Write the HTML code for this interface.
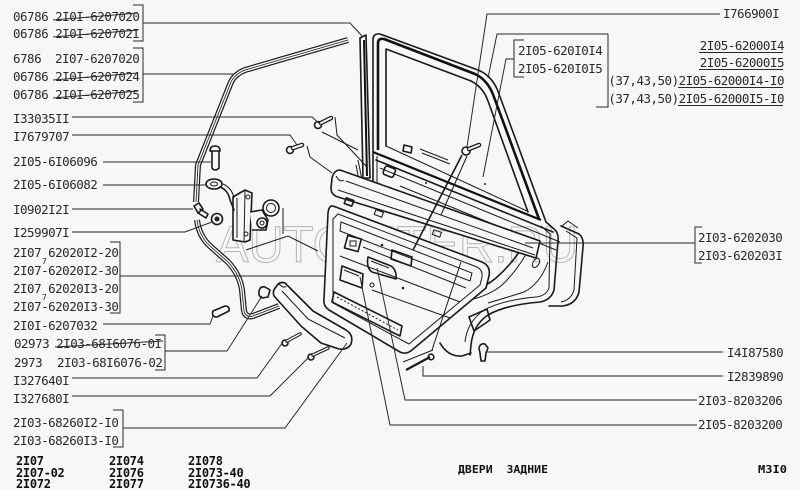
<!DOCTYPE html>
<html><head><meta charset="utf-8">
<style>
html,body{margin:0;padding:0;background:#f7f7f7;}
svg{display:block}
.t{font-family:"DejaVu Sans Mono","Liberation Mono",monospace;font-size:12.5px;fill:#2a2a2a;letter-spacing:-0.5px}
.b{font-family:"DejaVu Sans Mono","Liberation Mono",monospace;font-size:12px;font-weight:bold;fill:#111;letter-spacing:-0.3px}
.s{font-family:"DejaVu Sans Mono","Liberation Mono",monospace;font-size:8px;fill:#2a2a2a}
.l{stroke:#2a2a2a;stroke-width:1;fill:none}
.d{stroke:#1a1a1a;stroke-width:1.6;fill:none;stroke-linejoin:round;stroke-linecap:round}
.f{stroke:#1a1a1a;stroke-width:1.6;fill:#f7f7f7;stroke-linejoin:round}
.th{stroke:#1a1a1a;stroke-width:1;fill:none}
</style></head><body>
<svg width="800" height="490" viewBox="0 0 800 490" xmlns="http://www.w3.org/2000/svg">
<rect width="800" height="490" fill="#f7f7f7"/>

<!-- ============ WATERMARK ============ -->
<text x="216" y="262" font-family="Liberation Sans, sans-serif" font-size="51" fill="none" stroke="#b4b4b4" stroke-width="1" textLength="362" lengthAdjust="spacingAndGlyphs">AUTOPITER.RU</text>

<!-- ============ DRAWING ============ -->
<!-- upper curved seal -->
<path d="M348,40 L245,70 Q235,74 231,82 L198,165 L196,202" stroke="#1a1a1a" stroke-width="6" fill="none" stroke-linejoin="round"/>
<path d="M348,40 L245,70 Q235,74 231,82 L198,165 L196,202" stroke="#f7f7f7" stroke-width="3.6" fill="none" stroke-linejoin="round"/>
<path d="M348,40 L245,70 Q235,74 231,82 L198,165 L196,202" stroke="#1a1a1a" stroke-width="0.8" fill="none"/>
<!-- lower seal -->
<path d="M197,220 Q199,236 210,246 L228,262 Q240,275 242,290 L244,311 Q246,318 253,316 L279,306" stroke="#1a1a1a" stroke-width="6" fill="none" stroke-linejoin="round"/>
<path d="M197,220 Q199,236 210,246 L228,262 Q240,275 242,290 L244,311 Q246,318 253,316 L279,306" stroke="#f7f7f7" stroke-width="3.6" fill="none" stroke-linejoin="round"/>
<path d="M197,220 Q199,236 210,246 L228,262 Q240,275 242,290 L244,311 Q246,318 253,316 L279,306" stroke="#1a1a1a" stroke-width="0.8" fill="none"/>

<!-- vertical glass run strip -->
<path d="M360,38 L366,35 L370,178 L363,178 Z" class="f"/>
<line x1="364" y1="40" x2="367" y2="176" stroke="#111" stroke-width="2"/>
<path d="M358,160 L362,180 M356,165 L360,185" class="th"/>

<!-- door window frame -->
<path d="M373,185 L373,40 Q373,33 380,34 L478,70 Q493,76 499,94 L546,222" class="d"/>
<path d="M378,150 L378,43 Q378,38 384,39 L475,74 Q488,80 494,97 L539,219" stroke="#111" stroke-width="2.6" fill="none" stroke-linejoin="round"/>
<path d="M386,146 L386,49 L471,81 Q483,87 488,101 L528,212" class="d"/>
<!-- belt line -->
<path d="M373,152 L541,220" stroke="#111" stroke-width="2.2"/>
<path d="M376,160 L553,232" class="d"/>
<path d="M386,146 L527,211" class="th"/>
<path d="M380,168 L560,242" class="th"/>
<path d="M400,186 L556,250" class="th"/>
<path d="M377,156 L377,183" class="th"/>
<!-- belt small brackets -->
<path d="M403,151 L404,145 L412,147 L411,153 Z" class="d"/>
<path d="M420,149 L448,160 M422,153 L450,164" class="th"/>
<!-- door small cutouts -->
<rect x="384" y="167" width="11" height="9" rx="2" class="d" transform="rotate(22 389 171)"/>
<circle cx="389" cy="190" r="3" class="th"/>
<path d="M398,197 Q402,192 408,196 L418,200 Q424,200 426,205" class="d"/>
<rect x="419" y="202" width="9" height="5" class="th" transform="rotate(22 423 204)"/>
<circle cx="426" cy="183" r="1" fill="#222"/>
<circle cx="485" cy="184" r="1" fill="#222"/>
<circle cx="458" cy="224" r="1" fill="#222"/>

<!-- door rear / body -->
<path d="M546,222 L554,229 Q559,233 558,241 L554,290 Q551,300 540,302 Q505,305 488,315 Q473,325 471,345 L470,355" class="d"/>
<path d="M541,226 L550,234 L549,288 Q546,296 536,297 Q503,300 484,310 Q467,322 465,342" class="th"/>
<path d="M561,226 L579,234 Q584,238 583,247 L579,292 Q576,304 563,306 L549,306" class="d"/>
<path d="M566,231 L577,238 L574,290 Q571,300 561,302" class="th"/>
<path d="M562,226 L568,221 L578,228" class="th"/>
<path d="M522,248 Q510,266 496,278 Q484,288 468,292 L446,299" class="d"/>
<path d="M528,251 Q516,272 502,285 Q490,295 470,300" class="th"/>
<path d="M548,262 Q540,284 524,292 Q505,298 488,303" class="th"/>
<ellipse cx="536" cy="263" rx="3" ry="5" transform="rotate(30 536 263)" class="th"/>
<path d="M440,343 Q448,357 462,356 L471,353" class="d"/>
<path d="M469,317 L487,309 L490,320 L474,331 Z" class="d"/>
<path d="M512,240 L535,248" class="th"/>

<!-- upper trim strip -->
<path d="M340,170 L540,241 L536,258 L338,197 Q331,195 331,188 L332,178 Q334,170 340,170 Z" class="f"/>
<path d="M346,181 L533,248" class="th"/>
<path d="M338,190 L535,255" class="th"/>
<path d="M336,176 Q340,183 344,180" class="th"/>
<rect x="345" y="199" width="8" height="6" class="d" transform="rotate(20 349 202)"/>
<rect x="375" y="211" width="8" height="5" class="th" transform="rotate(20 379 213)"/>
<rect x="433" y="231" width="8" height="5" class="th" transform="rotate(20 437 233)"/>

<!-- door trim panel -->
<path d="M333,206 L482,262 Q491,266 489,276 L486,288 L412,350 Q406,355 400,352 L329,310 Q323,306 324,299 L328,213 Q329,205 333,206 Z" class="f"/>
<path d="M338,214 L477,267 Q483,270 482,277 L480,285 L409,344 L333,303 L333,219 Z" class="th"/>
<path d="M341,222 L472,273 L470,281 L340,231 Z" class="th"/>
<rect x="346" y="237" width="14" height="13" class="d" transform="rotate(15 353 243)"/>
<rect x="350" y="241" width="6" height="5" class="th"/>
<path d="M363,247 L466,288" class="th"/>
<path d="M340,256 L460,302" class="th"/>
<path d="M392,250 L412,257 L411,266 L391,259 Z" class="d"/>
<path d="M342,266 L363,274 L362,288 L340,280 Z" class="d"/>
<path d="M344,270 L359,276" class="th"/>
<path d="M368,257 L391,266 Q397,270 396,279 L372,272 Q366,268 368,257 Z" class="d"/>
<path d="M371,261 L389,268" class="th"/>
<path d="M372,290 L450,318" class="th"/>
<path d="M334,292 L402,326 L400,336 L332,302 Z" class="d"/>
<path d="M337,297 L398,330" class="th" stroke-dasharray="2,2"/>
<circle cx="372" cy="285" r="2" class="th"/>
<circle cx="382" cy="245" r="1.3" fill="#222"/>
<circle cx="403" cy="288" r="1.3" fill="#222"/>

<!-- armrest -->
<path d="M276,287 Q279,281 285,283 L313,311 L346,330 Q354,335 351,344 Q348,350 339,349 L321,343 L301,326 L274,296 Q272,291 276,287 Z" class="f"/>
<path d="M282,291 L308,319 L345,338" class="th"/>
<path d="M279,284 Q284,289 286,286" class="th"/>

<!-- lock mechanism -->
<path d="M233,197 L245,190 L252,193 L250,240 L245,242 L233,240 Z" class="f"/>
<path d="M245,190 L244,242 M237,198 L237,238" class="th"/>
<circle cx="248" cy="197" r="2" class="th"/>
<circle cx="246" cy="234" r="2" class="th"/>
<path d="M250,212 L262,210 L268,220 L266,230 L252,230" class="f"/>
<circle cx="271" cy="208" r="8" class="d"/>
<circle cx="271" cy="208" r="4.5" class="th"/>
<circle cx="262" cy="223" r="5" class="f"/>
<circle cx="262" cy="223" r="2" class="th"/>
<!-- link arm with ring -->
<path d="M220,187 Q228,190 230,200 L234,210" class="d"/>
<path d="M223,184 Q232,188 234,198" class="th"/>
<ellipse cx="214" cy="184" rx="8" ry="5" class="d"/>
<ellipse cx="214" cy="184" rx="3.5" ry="2" class="th"/>
<!-- striker bolt -->
<path d="M210,151 Q210,146 215,146 Q220,146 220,151 Z" class="d"/>
<path d="M212,151 L212,168 Q215,172 219,168 L219,151" class="d"/>
<!-- bolt I0902I2I -->
<path d="M194,206 L199,203 L203,209 L198,213 Z" class="d"/>
<path d="M200,209 L208,214 L206,218 L198,213" class="d"/>
<!-- nut -->
<circle cx="217" cy="219" r="5.5" class="d"/>
<circle cx="217" cy="219" r="2.5" fill="#222"/>
<!-- assembly lines from lock -->
<path d="M283,208 L283,234" class="th"/>
<path d="M246,250 L288,236 L318,251" class="th"/>

<!-- bolts I33035II and I7679707 -->
<circle cx="318" cy="125" r="3.5" class="d"/>
<line x1="321" y1="123" x2="331" y2="118" stroke="#1a1a1a" stroke-width="4.5" stroke-linecap="round"/>
<line x1="321" y1="123" x2="331" y2="118" stroke="#f7f7f7" stroke-width="2" stroke-linecap="round"/>
<circle cx="290" cy="150" r="3.5" class="d"/>
<line x1="293" y1="148" x2="302" y2="145" stroke="#1a1a1a" stroke-width="4.5" stroke-linecap="round"/>
<line x1="293" y1="148" x2="302" y2="145" stroke="#f7f7f7" stroke-width="2" stroke-linecap="round"/>
<path d="M335,117 L337,135 L367,167" class="th"/>
<path d="M322,132 L358,150" class="th"/>
<path d="M307,146 L310,157 L332,173" class="th"/>

<!-- screw near window (I766900I) -->
<circle cx="466" cy="151" r="4" class="d"/>
<line x1="469" y1="149" x2="479" y2="145" stroke="#1a1a1a" stroke-width="4.5" stroke-linecap="round"/>
<line x1="469" y1="149" x2="479" y2="145" stroke="#f7f7f7" stroke-width="2" stroke-linecap="round"/>
<path d="M462,155 L413,250" stroke="#1a1a1a" stroke-width="1.6"/>
<path d="M467,156 L441,215" class="th"/>
<path d="M461,262 L432,350" class="th"/>

<!-- grommet -->
<path d="M259,291 Q260,286 265,287 L270,290 L268,297 L262,298 Q258,296 259,291 Z" class="d"/>
<!-- pin -->
<path d="M213,311 L225,306 Q230,306 229,311 L217,317 Q211,317 213,311 Z" class="d"/>
<!-- screws -->
<circle cx="285" cy="343" r="3" class="d"/>
<line x1="287" y1="341" x2="300" y2="334" stroke="#1a1a1a" stroke-width="3.5" stroke-linecap="round"/>
<line x1="287" y1="341" x2="300" y2="334" stroke="#f7f7f7" stroke-width="1.4" stroke-linecap="round"/>
<circle cx="311" cy="357" r="3" class="d"/>
<line x1="313" y1="355" x2="328" y2="348" stroke="#1a1a1a" stroke-width="3.5" stroke-linecap="round"/>
<line x1="313" y1="355" x2="328" y2="348" stroke="#f7f7f7" stroke-width="1.4" stroke-linecap="round"/>
<!-- clip -->
<path d="M479,348 Q480,343 485,344 L488,348 L486,353 L485,361 L481,361 L480,353 Z" class="d"/>
<!-- long screw -->
<path d="M406,370 L430,357" stroke="#1a1a1a" stroke-width="2.2"/>
<circle cx="431" cy="357" r="2.8" class="d"/>
<path d="M403,362 L433,350" class="th"/>

<!-- ============ LEADER LINES ============ -->
<g class="l">
<path d="M133,5 L143,5 L143,41 L133,41"/>
<path d="M143,23 L350,23 L363,37"/>
<path d="M133,48 L143,48 L143,102 L133,102"/>
<path d="M143,74 L233,74"/>
<path d="M72,117 L312,117 L321,125"/>
<path d="M72,135 L290,135 L297,145"/>
<path d="M103,162 L211,162"/>
<path d="M103,185 L207,185"/>
<path d="M72,209 L193,209"/>
<path d="M72,232 L185,232 L212,222"/>
<path d="M110,242 L120,242 L120,313 L110,313"/>
<path d="M120,276 L325,276"/>
<path d="M103,324 L210,324 L213,316"/>
<path d="M155,335 L165,335 L165,370 L155,370"/>
<path d="M165,351 L227,351 L262,296"/>
<path d="M72,378 L257,378 L283,342"/>
<path d="M72,396 L270,396 L309,357"/>
<path d="M113,410 L123,410 L123,447 L113,447"/>
<path d="M123,428 L285,428 L347,343"/>
<path d="M720,14 L487,14 L467,147"/>
<path d="M608,34 L497,34 L488,78"/>
<path d="M596,107 L608,107 L608,34"/>
<path d="M524,40 L514,40 L514,77 L524,77"/>
<path d="M514,59 L506,59 L483,177"/>
<path d="M525,243 L695,243"/>
<path d="M702,227 L695,227 L695,263 L702,263"/>
<path d="M487,352 L723,352"/>
<path d="M423,366 L423,376 L723,376"/>
<path d="M697,400 L405,400 L377,268"/>
<path d="M697,425 L390,425 L360,277"/>
</g>

<!-- ============ LABELS LEFT ============ -->
<text class="t" x="13" y="21">06786 2I0I-6207020</text>
<text class="t" x="13" y="38">06786 2I0I-620702I</text>
<text class="t" x="13" y="63">6786</text><text class="t" x="55" y="63">2I07-6207020</text>
<text class="t" x="13" y="81">06786 2I0I-6207024</text>
<text class="t" x="13" y="99">06786 2I0I-6207025</text>
<g stroke="#2a2a2a" stroke-width="1">
<line x1="53" y1="20" x2="138" y2="13"/>
<line x1="53" y1="37" x2="138" y2="30"/>
<line x1="53" y1="80" x2="138" y2="73"/>
<line x1="53" y1="98" x2="138" y2="91"/>
<line x1="55" y1="347" x2="163" y2="341"/>
</g>
<text class="t" x="13" y="123">I33035II</text>
<text class="t" x="13" y="141">I7679707</text>
<text class="t" x="13" y="166">2I05-6I06096</text>
<text class="t" x="13" y="189">2I05-6I06082</text>
<text class="t" x="13" y="214">I0902I2I</text>
<text class="t" x="13" y="237">I259907I</text>
<text class="t" x="13" y="257">2I07 62020I2-20</text>
<text class="s" x="42" y="264">7</text>
<text class="t" x="13" y="275">2I07-62020I2-30</text>
<text class="t" x="13" y="293">2I07 62020I3-20</text>
<text class="s" x="42" y="300">7</text>
<text class="t" x="13" y="311">2I07-62020I3-30</text>
<text class="t" x="13" y="330">2I0I-6207032</text>
<text class="t" x="14" y="348">02973 2I03-68I6076-0I</text>
<text class="t" x="14" y="367">2973</text><text class="t" x="57" y="367">2I03-68I6076-02</text>
<text class="t" x="13" y="385">I327640I</text>
<text class="t" x="13" y="403">I327680I</text>
<text class="t" x="13" y="427">2I03-68260I2-I0</text>
<text class="t" x="13" y="445">2I03-68260I3-I0</text>

<!-- bottom models -->
<text class="b" x="16" y="465">2I07</text>
<text class="b" x="16" y="477">2I07-02</text>
<text class="b" x="16" y="488">2I072</text>
<text class="b" x="109" y="465">2I074</text>
<text class="b" x="109" y="477">2I076</text>
<text class="b" x="109" y="488">2I077</text>
<text class="b" x="188" y="465">2I078</text>
<text class="b" x="188" y="477">2I073-40</text>
<text class="b" x="188" y="488">2I0736-40</text>

<!-- ============ LABELS RIGHT ============ -->
<text class="t" x="723" y="18">I766900I</text>
<text class="t" x="518" y="55">2I05-620I0I4</text>
<text class="t" x="518" y="73">2I05-620I0I5</text>
<text class="t" x="784" y="50" text-anchor="end">2I05-62000I4</text>
<text class="t" x="784" y="67" text-anchor="end">2I05-62000I5</text>
<text class="t" x="784" y="85" text-anchor="end">(37,43,50)2I05-62000I4-I0</text>
<text class="t" x="784" y="103" text-anchor="end">(37,43,50)2I05-62000I5-I0</text>
<g stroke="#2a2a2a" stroke-width="1">
<line x1="699" y1="52.5" x2="783" y2="52.5"/>
<line x1="699" y1="69.5" x2="783" y2="69.5"/>
<line x1="678" y1="87.5" x2="783" y2="87.5"/>
<line x1="678" y1="105.5" x2="783" y2="105.5"/>
</g>
<text class="t" x="698" y="242">2I03-6202030</text>
<text class="t" x="698" y="260">2I03-620203I</text>
<text class="t" x="727" y="357">I4I87580</text>
<text class="t" x="727" y="381">I2839890</text>
<text class="t" x="698" y="405">2I03-8203206</text>
<text class="t" x="698" y="429">2I05-8203200</text>

<text x="458" y="473" font-family="DejaVu Sans Mono, Liberation Mono, monospace" font-size="11" font-weight="bold" fill="#111" textLength="90" lengthAdjust="spacingAndGlyphs" xml:space="preserve">ДВЕРИ  ЗАДНИЕ</text>
<text x="758" y="473" font-family="DejaVu Sans Mono, Liberation Mono, monospace" font-size="11" font-weight="bold" fill="#111" textLength="29" lengthAdjust="spacingAndGlyphs">М3I0</text>
</svg>
</body></html>
